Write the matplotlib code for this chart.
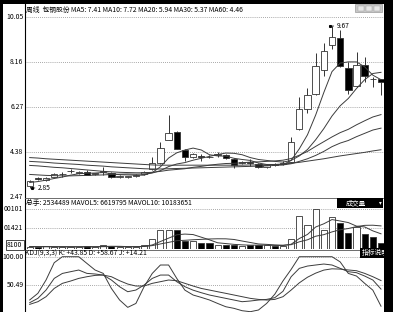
import matplotlib
matplotlib.use("Agg")
import matplotlib.pyplot as plt
from matplotlib.lines import Line2D
from matplotlib.patches import Rectangle

plt.rcParams['font.family'] = ['Noto Sans CJK SC', 'DejaVu Sans']

# 周线 K 线数据
opens  = [2.93, 3.26, 3.17, 3.33, 3.42, 3.55, 3.50, 3.51, 3.44, 3.52, 3.47, 3.33, 3.32, 3.36, 3.43,
          3.65, 3.89, 4.87, 5.21, 4.45, 4.17, 4.18, 4.17, 4.24, 4.24, 4.06, 3.90, 3.93, 3.86, 3.74,
          3.88, 3.84, 3.96, 5.32, 6.16, 6.81, 7.82, 8.87, 9.15, 7.89, 7.16, 8.03, 7.46, 7.43]
highs  = [3.20, 3.30, 3.30, 3.46, 3.51, 3.65, 3.58, 3.60, 3.50, 3.75, 3.52, 3.38, 3.37, 3.42, 3.58,
          4.17, 4.80, 5.92, 5.25, 4.50, 4.34, 4.27, 4.22, 4.38, 4.28, 4.10, 3.98, 4.05, 3.92, 3.84,
          3.92, 3.98, 5.01, 6.69, 7.05, 8.52, 8.94, 9.67, 9.50, 8.17, 8.59, 8.38, 7.54, 7.45]
lows   = [2.85, 3.18, 3.15, 3.30, 3.33, 3.47, 3.45, 3.38, 3.40, 3.40, 3.28, 3.28, 3.29, 3.33, 3.40,
          3.60, 3.85, 4.85, 4.48, 4.00, 4.12, 4.00, 4.10, 4.14, 4.05, 3.68, 3.85, 3.78, 3.68, 3.70,
          3.78, 3.82, 3.92, 5.29, 6.02, 6.77, 7.57, 8.69, 7.96, 6.81, 7.12, 7.33, 7.12, 6.77]
closes = [3.16, 3.22, 3.28, 3.43, 3.44, 3.57, 3.52, 3.40, 3.46, 3.55, 3.30, 3.35, 3.34, 3.40, 3.54,
          3.89, 4.52, 5.18, 4.50, 4.17, 4.27, 4.15, 4.14, 4.28, 4.10, 3.82, 3.93, 3.90, 3.75, 3.80,
          3.82, 3.90, 4.80, 6.16, 6.77, 7.99, 8.63, 9.19, 7.99, 6.98, 8.03, 7.57, 7.43, 7.33]

ma5  = [3.08, 3.12, 3.18, 3.25, 3.31, 3.39, 3.45, 3.47, 3.48, 3.50, 3.45, 3.41, 3.40, 3.39, 3.39,
        3.50, 3.74, 4.11, 4.33, 4.45, 4.53, 4.45, 4.25, 4.20, 4.19, 4.10, 4.05, 4.01, 3.90, 3.84,
        3.84, 3.83, 4.01, 4.50, 5.09, 5.92, 6.87, 7.75, 8.11, 8.16, 8.16, 7.95, 7.60, 7.41]
ma10 = [3.42, 3.40, 3.38, 3.37, 3.36, 3.36, 3.37, 3.38, 3.39, 3.40, 3.42, 3.43, 3.44, 3.43, 3.44,
        3.48, 3.58, 3.75, 3.86, 3.92, 4.02, 4.10, 4.18, 4.26, 4.32, 4.31, 4.25, 4.13, 4.05, 4.01,
        3.97, 3.94, 4.01, 4.20, 4.47, 4.88, 5.35, 5.88, 6.31, 6.62, 7.04, 7.41, 7.67, 7.72]
ma20 = [3.80, 3.78, 3.75, 3.72, 3.70, 3.67, 3.64, 3.61, 3.58, 3.55, 3.53, 3.51, 3.50, 3.49, 3.49,
        3.51, 3.55, 3.60, 3.63, 3.66, 3.72, 3.76, 3.81, 3.85, 3.88, 3.89, 3.91, 3.94, 3.95, 3.97,
        3.99, 4.02, 4.09, 4.23, 4.39, 4.60, 4.80, 5.00, 5.18, 5.32, 5.51, 5.68, 5.84, 5.94]
ma30 = [3.97, 3.95, 3.93, 3.90, 3.88, 3.86, 3.84, 3.81, 3.79, 3.77, 3.74, 3.72, 3.70, 3.68, 3.66,
        3.65, 3.65, 3.66, 3.67, 3.68, 3.69, 3.70, 3.71, 3.72, 3.73, 3.74, 3.75, 3.76, 3.77, 3.78,
        3.80, 3.82, 3.87, 3.97, 4.08, 4.22, 4.39, 4.59, 4.74, 4.85, 5.01, 5.15, 5.29, 5.37]
ma60 = [4.13, 4.11, 4.08, 4.06, 4.04, 4.02, 4.00, 3.98, 3.96, 3.94, 3.92, 3.90, 3.88, 3.86, 3.84,
        3.82, 3.81, 3.81, 3.81, 3.81, 3.81, 3.81, 3.81, 3.81, 3.81, 3.81, 3.81, 3.82, 3.82, 3.83,
        3.84, 3.86, 3.89, 3.93, 3.98, 4.03, 4.08, 4.14, 4.20, 4.25, 4.30, 4.35, 4.41, 4.46]

# 成交量 (百万手)
volume = [0.73, 0.6, 1.2, 0.6, 0.6, 0.6, 0.6, 1.2, 0.6, 1.6, 1.0, 0.5, 0.6, 0.6, 1.8,
          4.5, 8.2, 8.2, 8.2, 3.4, 3.4, 2.3, 2.3, 1.5, 1.6, 1.6, 1.2, 1.6, 1.6, 1.5,
          1.0, 1.0, 4.5, 14.5, 10.7, 17.7, 8.3, 14.0, 11.3, 7.1, 9.7, 6.5, 5.1, 2.53]
mavol5 = [0.80, 0.75, 0.80, 0.75, 0.75, 0.72, 0.72, 0.72, 0.72, 0.92, 1.00, 0.98, 0.86, 0.86, 0.90,
          1.60, 3.14, 4.66, 6.18, 6.50, 6.28, 5.10, 3.92, 2.58, 2.22, 1.86, 1.64, 1.50, 1.52, 1.50,
          1.38, 1.34, 1.92, 4.50, 6.34, 9.68, 11.14, 13.04, 12.40, 11.68, 10.08, 9.72, 7.94, 6.62]
mavol10 = [0.90, 0.88, 0.86, 0.85, 0.84, 0.83, 0.82, 0.84, 0.83, 0.83, 0.86, 0.85, 0.79, 0.79, 0.91,
           1.30, 2.06, 2.76, 3.52, 3.70, 3.94, 4.12, 4.29, 4.38, 4.36, 4.07, 3.37, 2.71, 2.05, 1.86,
           1.62, 1.49, 1.71, 3.01, 3.92, 5.53, 6.24, 7.48, 8.45, 9.01, 9.88, 10.43, 10.49, 10.18]

# KDJ(9,3,3)
k_val = [20.3, 27.8, 42.2, 62.4, 71.0, 74.0, 76.9, 71.1, 70.0, 68.2, 59.6, 48.0, 39.3, 42.2, 50.9,
         62.4, 68.2, 68.2, 56.7, 48.0, 42.0, 37.6, 33.6, 30.7, 27.8, 24.9, 22.0, 23.2, 24.9, 26.0,
         29.0, 40.0, 65.3, 79.8, 83.8, 85.6, 87.3, 85.6, 79.8, 74.0, 72.3, 66.5, 59.6, 43.85]
d_val = [17.4, 22.0, 30.7, 45.0, 53.8, 57.8, 62.4, 65.3, 67.6, 68.2, 65.3, 58.4, 52.6, 49.2, 49.2,
         53.8, 56.7, 59.6, 58.4, 53.8, 49.2, 45.0, 42.2, 39.3, 36.5, 33.6, 30.7, 27.8, 26.0, 24.9,
         26.0, 30.7, 42.2, 54.7, 64.4, 71.5, 76.8, 79.0, 78.5, 77.0, 75.7, 71.1, 65.3, 58.67]
j_val = [25.0, 36.5, 59.6, 89.6, 100, 100, 100, 88.4, 76.9, 71.1, 45.0, 25.0, 12.2, 19.0, 48.0,
         71.0, 85.6, 85.6, 62.4, 42.0, 33.6, 29.5, 25.0, 19.0, 13.3, 10.5, 6.4, 4.7, 7.6, 19.0,
         35.0, 58.0, 78.0, 100, 100, 100, 100, 100, 91.0, 71.0, 66.5, 53.8, 42.0, 14.21]

price_ticks = [10.05, 8.16, 6.27, 4.38, 2.47]
vol_ticks = [17.8, 9.1]
vol_tick_labels = ['00101', '01421']
kdj_ticks = [100.0, 50.49]

title_txt = '周线  包钢股份 MA5: 7.41 MA10: 7.72 MA20: 5.94 MA30: 5.37 MA60: 4.46'
vol_txt = '总手: 2534489 MAVOL5: 6619795 MAVOL10: 10183651'
kdj_txt = 'KDJ(9,3,3) K: +43.85 D: +58.67 J: +14.21'

W, H = 393, 312
def fx(px):
    return px / W
def fy(py):
    return 1 - py / H

fig = plt.figure(figsize=(W / 100, H / 100), dpi=100, facecolor='black')
fig.patches.append(Rectangle((fx(3), fy(312)), fx(384) - fx(3), fy(3.5) - fy(312),
                             transform=fig.transFigure, fc='white', ec='none', zorder=-10))

x0, x1 = 25, 383.5
step = 8.17
xl = ((x0 - 29.7) / step, (x1 - 29.7) / step)
n = len(closes)
xs = list(range(n))

def make_ax(top, bottom):
    ax = fig.add_axes([fx(x0), fy(bottom), fx(x1) - fx(x0), fy(top) - fy(bottom)])
    ax.set_xlim(*xl)
    ax.axis('off')
    return ax

grid_kw = dict(color='#8c8c8c', lw=0.6, ls=(0, (1, 1.5)), clip_on=False, zorder=1)
edge = '#333333'
line_c = '#3c3c3c'

# 主图 K 线
ax_p = make_ax(17, 197)
ax_p.set_ylim(2.47, 10.05)
for t in price_ticks[:-1]:
    ax_p.axhline(t, **grid_kw)
up = [c >= o for o, c in zip(opens, closes)]
ax_p.vlines(xs, lows, highs, color=edge, lw=0.7, zorder=2)
body_lo = [min(o, c) for o, c in zip(opens, closes)]
body_h = [max(abs(c - o), 0.005) for o, c in zip(opens, closes)]
ax_p.bar(xs, body_h, bottom=body_lo, width=0.78,
         color=['white' if u else 'black' for u in up], edgecolor=edge, lw=0.6, zorder=3)
for ma in (ma5, ma10, ma20, ma30, ma60):
    ax_p.plot(xs, ma, color=line_c, lw=0.7, zorder=4)
hi_i = highs.index(max(highs))
lo_i = lows.index(min(lows))
ax_p.annotate(f'{highs[hi_i]:.2f}', xy=(hi_i - 0.3, highs[hi_i]), xytext=(5, 0), textcoords='offset points',
              fontsize=4.8, va='center', arrowprops=dict(arrowstyle='-', color='black', lw=0.5,
                                                        shrinkA=0, shrinkB=0))
ax_p.plot([hi_i - 0.3], [highs[hi_i]], marker='s', ms=1.2, color='black', zorder=5)
ax_p.annotate(f'{lows[lo_i]:.2f}', xy=(lo_i + 0.3, lows[lo_i]), xytext=(4, 0), textcoords='offset points',
              fontsize=4.8, va='center', arrowprops=dict(arrowstyle='-', color='black', lw=0.5,
                                                        shrinkA=0, shrinkB=0))
ax_p.plot([lo_i + 0.3], [lows[lo_i]], marker='s', ms=1.2, color='black', zorder=5)

# 成交量
ax_v = make_ax(209, 248.5)
ax_v.set_ylim(0, 17.8)
for t in vol_ticks:
    ax_v.axhline(t, **grid_kw)
ax_v.bar(xs, volume, width=0.75, color=['white' if u else 'black' for u in up],
         edgecolor=edge, lw=0.6, zorder=2)
ax_v.plot(xs, mavol5, color=line_c, lw=0.7, zorder=3)
ax_v.plot(xs, mavol10, color=line_c, lw=0.7, zorder=3)

# KDJ
ax_k = make_ax(256.7, 314.4)
ax_k.set_ylim(0, 100)
for t in kdj_ticks:
    ax_k.axhline(t, **grid_kw)
for s in (k_val, d_val, j_val):
    ax_k.plot(xs, s, color=line_c, lw=0.7, clip_on=False)

# 分隔线与纵轴
def fline(xa, xb, ya, yb, **kw):
    fig.add_artist(Line2D([fx(xa), fx(xb)], [fy(ya), fy(yb)], transform=fig.transFigure, **kw))

fline(24.5, 24.5, 3.5, 312, color='black', lw=0.8)
fline(24.5, 384, 197.5, 197.5, color='#555555', lw=0.6)
fline(24.5, 384, 250, 250, color='#555555', lw=0.6)

fs = 4.9
fig.text(fx(26), fy(9.5), title_txt, fontsize=fs, va='center', ha='left')
fig.text(fx(25.5), fy(203), vol_txt, fontsize=fs, va='center', ha='left')
fig.text(fx(25), fy(253.5), kdj_txt, fontsize=fs, va='center', ha='left')

for t in price_ticks:
    fig.text(fx(23.5), fy(197 - (t - 2.47) / (10.05 - 2.47) * 180), f'{t:.2f}',
             fontsize=fs, ha='right', va='center')
for t, lab in zip(vol_ticks, vol_tick_labels):
    fig.text(fx(23.5), fy(248.5 - t / 17.8 * 39.5), lab, fontsize=fs, ha='right', va='center')
fig.text(fx(22.5), fy(245), '8100', fontsize=fs, ha='right', va='center',
         bbox=dict(boxstyle='square,pad=0.15', fc='white', ec='black', lw=0.5))
for t in kdj_ticks:
    fig.text(fx(23.5), fy(256.7 + (100 - t) * 0.577), f'{t:.2f}', fontsize=fs, ha='right', va='center')

# 右上按钮
fig.patches.append(Rectangle((fx(337), fy(208)), fx(383) - fx(337), fy(198) - fy(208),
                             transform=fig.transFigure, fc='black', ec='none', zorder=5))
fig.text(fx(356), fy(203), '成交量', fontsize=fs, color='white', ha='center', va='center', zorder=6)
fig.text(fx(380), fy(203), '▾', fontsize=4, color='white', ha='center', va='center', zorder=6)
fig.patches.append(Rectangle((fx(360), fy(258)), fx(384) - fx(360), fy(248) - fy(258),
                             transform=fig.transFigure, fc='black', ec='none', zorder=5))
fig.text(fx(362), fy(253), '指标说明', fontsize=fs, color='white', ha='left', va='center', zorder=6)
fig.patches.append(Rectangle((fx(355), fy(12)), fx(382) - fx(355), fy(4.5) - fy(12),
                             transform=fig.transFigure, fc='#c8c8c8', ec='#888888', lw=0.4, zorder=5))
for bx in (358, 366, 374):
    fig.patches.append(Rectangle((fx(bx), fy(11)), fx(6) - fx(0), fy(6) - fy(11),
                                 transform=fig.transFigure, fc='#e8e8e8', ec='#999999', lw=0.3, zorder=6))

# 右侧黑边
fig.patches.append(Rectangle((fx(384), 0), 1 - fx(384), 1, transform=fig.transFigure,
                             fc='black', ec='none', zorder=10))

fig.savefig('out.png', dpi=100, facecolor='black')
